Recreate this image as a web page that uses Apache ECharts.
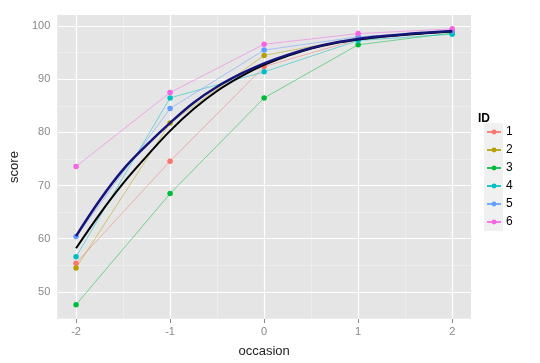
<!DOCTYPE html>
<html><head><meta charset="utf-8">
<script src="https://cdn.jsdelivr.net/npm/echarts@6/dist/echarts.min.js"></script>
<style>html,body{margin:0;padding:0;background:#fff}#c{width:540px;height:363px}</style>
</head><body><div id="c"></div>
<script>
var occasions = [-2, -1, 0, 1, 2];
var ids = ['1', '2', '3', '4', '5', '6'];
var id1 = [55.4, 74.6, 92.4, 97.5, 99.0];
var id2 = [54.5, 81.8, 94.5, 97.8, 99.0];
var id3 = [47.6, 68.5, 86.5, 96.5, 98.7];
var id4 = [56.6, 86.5, 91.4, 97.3, 98.5];
var id5 = [60.4, 84.5, 95.5, 98.0, 99.1];
var id6 = [73.6, 87.5, 96.6, 98.6, 99.5];
var smoothX = [-2, -1.75, -1.5, -1.25, -1, -0.75, -0.5, -0.25, 0, 0.25, 0.5, 0.75, 1, 1.25, 1.5, 1.75, 2];
var smoothNavy = [60.5, 67.2, 73.0, 77.6, 81.8, 85.6, 88.6, 91.0, 93.0, 94.6, 95.9, 96.9, 97.6, 98.1, 98.5, 98.8, 99.1];
var smoothBlack = [58.2, 64.6, 70.4, 75.5, 80.3, 84.4, 87.8, 90.5, 92.7, 94.4, 95.8, 96.8, 97.5, 98.0, 98.4, 98.7, 99.0];
var bandLow = [59.4, 66.2, 72.0, 76.8, 81.1, 85.0, 88.1, 90.6, 92.7, 94.4, 95.7, 96.7, 97.4, 97.9, 98.3, 98.6, 98.9];
var bandHigh = [61.6, 68.4, 74.2, 78.8, 83.0, 86.6, 89.4, 91.6, 93.4, 94.9, 96.1, 97.1, 97.8, 98.3, 98.7, 99.0, 99.3];
var xTicks = [-2, -1, 0, 1, 2];
var xMinor = [-1.5, -0.5, 0.5, 1.5];
var yTicks = [50, 60, 70, 80, 90, 100];
var yMinor = [45, 55, 65, 75, 85, 95];

var colors = ['#F8766D', '#B79F00', '#00BA38', '#00BFC4', '#619CFF', '#F564E3'];
var values = [id1, id2, id3, id4, id5, id6];

function pairs(xs, ys) { return xs.map(function (x, i) { return [x, ys[i]]; }); }

var series = [];
// grid lines
series.push({
  type: 'line', data: [], silent: true, z: 1,
  markLine: { z: 1, silent: true, symbol: 'none', label: { show: false }, animation: false,
    lineStyle: { color: '#F2F2F2', width: 0.6, type: 'solid' },
    data: xMinor.map(function (v) { return { xAxis: v }; }).concat(yMinor.map(function (v) { return { yAxis: v }; })) }
});
series.push({
  type: 'line', data: [], silent: true, z: 1,
  markLine: { z: 1, silent: true, symbol: 'none', label: { show: false }, animation: false,
    lineStyle: { color: '#FFFFFF', width: 1.2, type: 'solid' },
    data: xTicks.map(function (v) { return { xAxis: v }; }).concat(yTicks.map(function (v) { return { yAxis: v }; })) }
});
// ribbon
series.push({ type: 'line', data: pairs(smoothX, bandLow), stack: 'band', smooth: true, symbol: 'none', lineStyle: { width: 0 }, z: 2, silent: true });
series.push({ type: 'line', data: pairs(smoothX, bandHigh.map(function (v, i) { return +(v - bandLow[i]).toFixed(2); })), stack: 'band', smooth: true, symbol: 'none', lineStyle: { width: 0 }, areaStyle: { color: 'rgba(170,185,240,0.45)' }, z: 2, silent: true });

values.forEach(function (vals, k) {
  series.push({
    name: ids[k], type: 'line', data: pairs(occasions, vals), z: 4,
    symbol: 'circle', symbolSize: 5.5,
    itemStyle: { color: colors[k] },
    lineStyle: { color: colors[k], width: 0.6, opacity: 0.85 }
  });
});
series.push({ type: 'line', data: pairs(smoothX, smoothBlack), smooth: 0.4, symbol: 'none', lineStyle: { color: '#000000', width: 2 }, z: 5, silent: true });
series.push({ type: 'line', data: pairs(smoothX, smoothNavy), smooth: 0.4, symbol: 'none', lineStyle: { color: '#14147A', width: 2.5 }, z: 6, silent: true });

var chart = echarts.init(document.getElementById('c'), null, { renderer: 'canvas' });
chart.setOption({
  animation: false,
  backgroundColor: '#ffffff',
  textStyle: { fontFamily: 'Liberation Sans, Arial, sans-serif' },
  grid: { left: 48.5, right: 69, top: 15, bottom: 41.5, show: true, backgroundColor: '#E5E5E5', borderWidth: 0 },
  title: { text: 'ID', left: 473, top: 108, textStyle: { fontSize: 12, fontWeight: 'bold', color: '#000', fontFamily: 'Liberation Sans, Arial, sans-serif' } },
  legend: {
    orient: 'vertical', left: 481, top: 121, itemWidth: 14, itemHeight: 6, itemGap: 6,
    data: ids, textStyle: { fontSize: 12, color: '#000' }
  },
  graphic: [{ type: 'rect', left: 484, top: 123, shape: { width: 19, height: 108 }, style: { fill: '#F0F0F0' }, z: -1 }],
  xAxis: {
    type: 'value', min: -2.2, max: 2.2,
    name: 'occasion', nameLocation: 'middle', nameGap: 26,
    nameTextStyle: { fontSize: 13, color: '#222' },
    axisLine: { show: false },
    splitLine: { show: false },
    axisTick: { show: true, customValues: xTicks, length: 4, lineStyle: { color: '#888' } },
    axisLabel: { customValues: xTicks, color: '#888', fontSize: 11, margin: 7 }
  },
  yAxis: {
    type: 'value', min: 44.9, max: 102.1,
    name: 'score', nameLocation: 'middle', nameGap: 31, nameRotate: 90,
    nameTextStyle: { fontSize: 13, color: '#222' },
    axisLine: { show: false },
    splitLine: { show: false },
    axisTick: { show: true, customValues: yTicks, length: 4, lineStyle: { color: '#888' } },
    axisLabel: { customValues: yTicks, color: '#888', fontSize: 11, margin: 7 }
  },
  series: series
});
</script></body></html>
